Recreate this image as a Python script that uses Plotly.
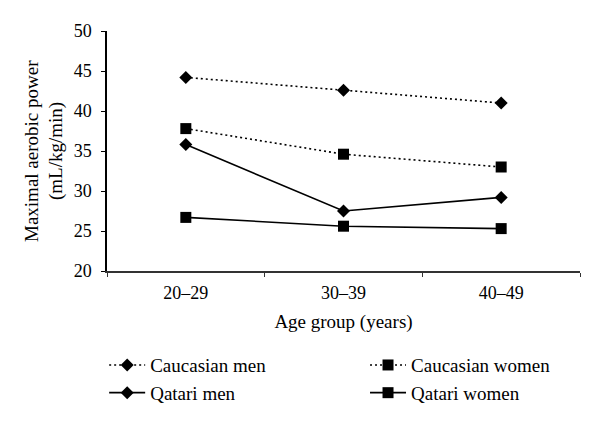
import plotly.graph_objects as go

categories = ["20–29", "30–39", "40–49"]
caucasian_men = [44.2, 42.6, 41.0]
caucasian_women = [37.8, 34.6, 33.0]
qatari_men = [35.8, 27.5, 29.2]
qatari_women = [26.7, 25.6, 25.3]

FONT = "Liberation Serif"

fig = go.Figure()
series = [
    ("Caucasian men", caucasian_men, "2px,3px", "diamond", 10, "legend"),
    ("Qatari men", qatari_men, "solid", "diamond", 10, "legend"),
    ("Caucasian women", caucasian_women, "2px,3px", "square", 11, "legend2"),
    ("Qatari women", qatari_women, "solid", "square", 11, "legend2"),
]
for name, vals, dash, sym, size, leg in series:
    fig.add_trace(go.Scatter(
        x=categories, y=vals, name=name, mode="lines+markers",
        line=dict(color="black", width=1.6, dash=dash),
        marker=dict(symbol=sym, size=size, color="black"),
        legend=leg,
    ))

# page body has an 8px default offset; margins compensate for it
L, R, T, B = 99, 28, 23, 158
PW = 600 - L - R

leg_common = dict(
    orientation="v", xanchor="left", yanchor="top", y=-0.313,
    font=dict(family=FONT, size=19), itemwidth=36, bgcolor="rgba(0,0,0,0)",
)

fig.update_layout(
    width=600, height=421,
    margin=dict(l=L, r=R, t=T, b=B),
    paper_bgcolor="white", plot_bgcolor="white",
    font=dict(family=FONT, size=18, color="black"),
    showlegend=True,
    legend=dict(x=-0.006, **leg_common),
    legend2=dict(x=0.5455, **leg_common),
    xaxis=dict(
        type="category", range=[-0.5, 2.5], tickson="boundaries",
        ticks="outside", ticklen=4, automargin=False, ticklabelstandoff=4,
        tickcolor="#333", showline=True, linecolor="#333", linewidth=2,
        showgrid=False, zeroline=False,
        title=dict(text="Age group (years)", standoff=13,
                   font=dict(family=FONT, size=19)),
    ),
    yaxis=dict(
        range=[20, 50], dtick=5, ticks="outside", ticklen=4, automargin=False,
        tickcolor="black", showline=True, linecolor="black", linewidth=1.5,
        showgrid=False, zeroline=False, ticklabelstandoff=6,
    ),
    annotations=[
        dict(text="Maximal aerobic power", xref="paper", yref="paper",
             x=(30 - 7 - L) / PW, y=0.5, xanchor="center", yanchor="middle",
             textangle=-90, showarrow=False, font=dict(family=FONT, size=19)),
        dict(text="(mL/kg/min)", xref="paper", yref="paper",
             x=(55 - 7 - L) / PW, y=0.5, xanchor="center", yanchor="middle",
             textangle=-90, showarrow=False, font=dict(family=FONT, size=19)),
    ],
)

fig.write_html("out.html")
